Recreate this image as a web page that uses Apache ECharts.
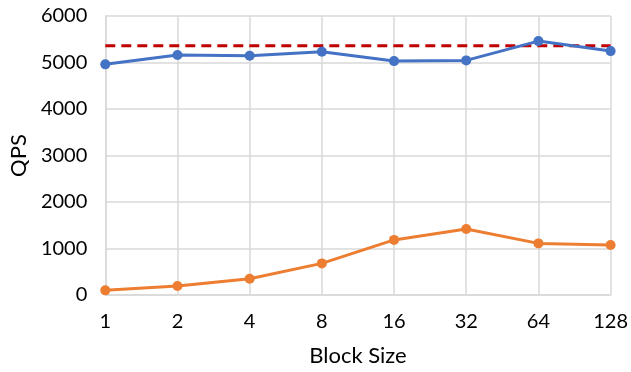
<!DOCTYPE html>
<html>
<head>
<meta charset="utf-8">
<script src="https://cdn.jsdelivr.net/npm/echarts@6/dist/echarts.min.js"></script>
<style>
  html, body { margin: 0; padding: 0; background: #fff; }
  #chart { width: 631px; height: 372px; }
</style>
</head>
<body>
<div id="chart"></div>
<script>
// Block sizes on the x axis
const blockSizes = ['1', '2', '4', '8', '16', '32', '64', '128'];
// Throughput per block size
const corunQps = [4960, 5160, 5145, 5230, 5030, 5045, 5460, 5245];
const singleQps = [100, 195, 350, 680, 1185, 1420, 1110, 1075];
// Reference level drawn as a dashed line
const baselineQps = 5360;
const baselineSeries = blockSizes.map(() => baselineQps);

const font = 'Lato, "Open Sans", sans-serif';
const chart = echarts.init(document.getElementById('chart'));
chart.setOption({
  animation: false,
  grid: { left: 104, right: 19, top: 16, bottom: 77 },
  xAxis: {
    type: 'category',
    data: blockSizes,
    boundaryGap: false,
    name: 'Block Size',
    nameLocation: 'middle',
    nameGap: 50,
    nameTextStyle: { fontFamily: font, fontSize: 22, color: '#000' },
    axisLine: { lineStyle: { color: '#D9D9D9', width: 1.5 } },
    axisTick: { show: false },
    axisLabel: { fontFamily: font, fontSize: 20, color: '#000', margin: 17 },
    splitLine: { show: true, lineStyle: { color: '#D9D9D9', width: 1.5 } }
  },
  yAxis: {
    type: 'value',
    min: 0,
    max: 6000,
    interval: 1000,
    name: 'QPS',
    nameLocation: 'middle',
    nameGap: 74,
    nameTextStyle: { fontFamily: font, fontSize: 22, color: '#000' },
    axisLine: { show: true, lineStyle: { color: '#D9D9D9', width: 1.5 } },
    axisTick: { show: false },
    axisLabel: { fontFamily: font, fontSize: 20, color: '#000', margin: 18, formatter: (v) => String(v) },
    splitLine: { lineStyle: { color: '#D9D9D9', width: 1.5 } }
  },
  series: [
    {
      type: 'line',
      data: baselineSeries,
      symbol: 'none',
      lineStyle: { color: '#C00000', width: 3, type: [10, 6] },
      z: 3
    },
    {
      type: 'line',
      data: corunQps,
      symbol: 'circle',
      symbolSize: 10,
      itemStyle: { color: '#4472C4' },
      lineStyle: { color: '#4472C4', width: 3 },
      z: 4
    },
    {
      type: 'line',
      data: singleQps,
      symbol: 'circle',
      symbolSize: 10,
      itemStyle: { color: '#ED7D31' },
      lineStyle: { color: '#ED7D31', width: 3 },
      z: 4
    }
  ]
});
</script>
</body>
</html>
